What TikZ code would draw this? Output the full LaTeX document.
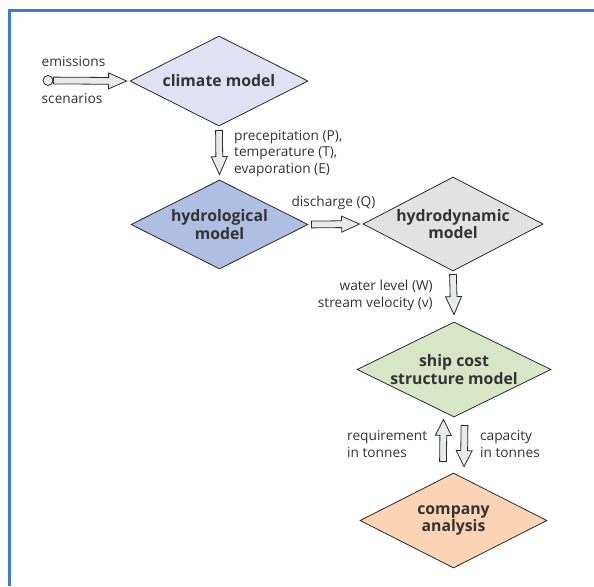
\documentclass[tikz,border=0pt]{standalone}
\usepackage{fontspec}
\setmainfont{Open Sans}
\usetikzlibrary{shapes.geometric,calc}
\definecolor{frameblue}{HTML}{3B7DC8}
\definecolor{txt}{HTML}{333333}
\definecolor{outl}{HTML}{2A2A2A}
\definecolor{afill}{HTML}{E9EAEA}
\definecolor{cclim}{HTML}{DFE2F2}
\definecolor{chydl}{HTML}{AFBEE3}
\definecolor{chydd}{HTML}{E2E2E2}
\definecolor{cship}{HTML}{D6E6C7}
\definecolor{ccomp}{HTML}{FAD4B4}
\tikzset{
  model/.style={diamond, draw=outl, line width=0.8pt, inner sep=-40pt,
    align=center, font=\bfseries\fontsize{15.8}{17.5}\selectfont, text=txt},
  lbl/.style={font=\fontsize{13.7}{16.7}\selectfont, text=txt, inner sep=0pt},
  barrow/.style={draw=outl, fill=afill, line width=0.8pt, line join=miter,
    to path={
      ($(\tikztostart)!3.4pt!90:(\tikztotarget)$) --
      ($($(\tikztotarget)!\hlen!(\tikztostart)$)!3.4pt!-90:(\tikztostart)$) --
      ($($(\tikztotarget)!\hlen!(\tikztostart)$)!8pt!-90:(\tikztostart)$) --
      (\tikztotarget) --
      ($($(\tikztotarget)!\hlen!(\tikztostart)$)!8pt!90:(\tikztostart)$) --
      ($($(\tikztotarget)!\hlen!(\tikztostart)$)!3.4pt!90:(\tikztostart)$) --
      ($(\tikztostart)!3.4pt!-90:(\tikztotarget)$) -- cycle}},
}
\def\hlen{18pt}
\begin{document}
\begin{tikzpicture}[x=1pt,y=-1pt]
\useasboundingbox (0,0) rectangle (594,586);
% frame (only top and left edges are visible)
\draw[frameblue, line width=3pt] (594,11) -- (9,11) -- (9,586);

% models
\node[model, fill=cclim, minimum width=178pt, minimum height=90pt] (clim) at (219,81) {climate model};
\node[model, fill=chydl, minimum width=177pt, minimum height=89pt] (hydl) at (219.5,224.5) {hydrological\\model};
\node[model, fill=chydd, minimum width=180pt, minimum height=94pt] (hydd) at (453,224) {hydrodynamic\\model};
\node[model, fill=cship, minimum width=194pt, minimum height=95pt] (ship) at (454,369.5) {ship cost\\structure model};
\node[model, fill=ccomp, minimum width=187pt, minimum height=95pt] (comp) at (453.5,520.5) {company\\analysis};

% emissions source
\node[circle, draw=outl, fill=afill, line width=0.8pt, minimum size=10pt, inner sep=0pt] (src) at (48,80.5) {};
\node[lbl, anchor=base west] (em) at (41.5,66.5) {emissions};
\node[lbl, anchor=base west] (sc) at (41.5,103.5) {scenarios};

% block arrows
\draw[barrow] (src.east) to ($(clim.west)+(-3,0)$);
\draw[barrow] ($(clim.south)+(0,4)$) to ($(hydl.north)+(0,-5)$);
\draw[barrow] ($(hydl.east)+(3,0)$) to ($(hydd.west)+(-3,0)$);
\draw[barrow] ($(hydd.south)+(0,3)$) to ($(ship.north)+(0,-7)$);
\def\hlen{16pt}
\draw[barrow] ($(comp.north)+(-10.5,-11)$) to ($(ship.south)+(-10.5,2)$);
\draw[barrow] ($(ship.south)+(10.5,8)$) to ($(comp.north)+(10.5,-6)$);

% labels
\node[lbl, anchor=base west] (p1) at (234,140) {precepitation (P),};
\node[lbl, anchor=base west] (p2) at (234,156.7) {temperature (T),};
\node[lbl, anchor=base west] (p3) at (234,173.4) {evaporation (E)};
\node[lbl, anchor=base] (q) at (333.5,206) {discharge (Q)};
\node[lbl, anchor=base east] (w1) at (433,290) {water level (W)};
\node[lbl, anchor=base east] (w2) at (433,307) {stream velocity (v)};
\node[lbl, anchor=base west] (r1) at (347,440) {requirement};
\node[lbl, anchor=base west] (r2) at (347,457) {in tonnes};
\node[lbl, anchor=base west] (c1) at (480,440) {capacity};
\node[lbl, anchor=base west] (c2) at (480,457) {in tonnes};
\end{tikzpicture}
\end{document}
